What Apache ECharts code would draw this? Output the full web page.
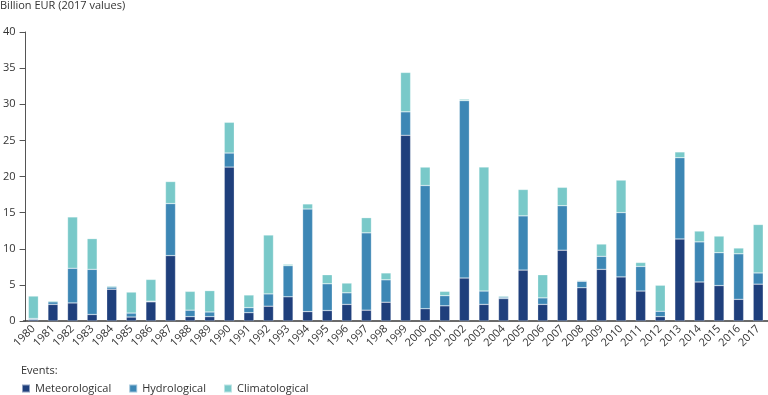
<!DOCTYPE html>
<html>
<head>
<meta charset="utf-8">
<script src="https://cdn.jsdelivr.net/npm/echarts@6/dist/echarts.min.js"></script>
<style>
  html, body { margin: 0; padding: 0; background: #fff; }
  #chart { width: 768px; height: 395px; }
</style>
</head>
<body>
<div id="chart"></div>
<script>
const years = ['1980','1981','1982','1983','1984','1985','1986','1987','1988','1989',
  '1990','1991','1992','1993','1994','1995','1996','1997','1998','1999',
  '2000','2001','2002','2003','2004','2005','2006','2007','2008','2009',
  '2010','2011','2012','2013','2014','2015','2016','2017'];

const meteorological = [0.2, 2.3, 2.5, 0.9, 4.4, 0.55, 2.65, 9.05, 0.6, 0.6,
  21.3, 1.15, 2.05, 3.35, 1.3, 1.45, 2.3, 1.5, 2.6, 25.7,
  1.7, 2.1, 5.95, 2.3, 3.1, 7.05, 2.3, 9.8, 4.6, 7.15,
  6.1, 4.15, 0.6, 11.35, 5.4, 4.9, 3.0, 5.1];

const hydrological = [0.15, 0.35, 4.8, 6.25, 0.3, 0.55, 0.1, 7.2, 0.9, 0.65,
  1.95, 0.7, 1.7, 4.3, 14.2, 3.7, 1.6, 10.7, 3.1, 3.25,
  17.05, 1.4, 24.55, 1.85, 0.2, 7.5, 0.9, 6.15, 0.9, 1.8,
  8.9, 3.4, 0.75, 11.25, 5.55, 4.55, 6.3, 1.55];

const climatological = [3.1, 0.15, 7.1, 4.25, 0.15, 2.9, 3.0, 3.05, 2.6, 2.95,
  4.25, 1.75, 8.15, 0.2, 0.7, 1.25, 1.35, 2.1, 0.95, 5.45,
  2.55, 0.6, 0.2, 17.15, 0.15, 3.65, 3.2, 2.55, 0.1, 1.7,
  4.5, 0.55, 3.6, 0.8, 1.5, 2.3, 0.8, 6.7];

const seriesNames = ['Meteorological', 'Hydrological', 'Climatological'];
const colors = ['#1f3f7c', '#3d87b5', '#79c9c9'];

const FONT = '"Open Sans", sans-serif';
const chart = echarts.init(document.getElementById('chart'), null, { renderer: 'canvas' });

function barSeries(name, data, color) {
  return {
    name: name,
    type: 'bar',
    stack: 'total',
    data: data,
    barWidth: 10,
    itemStyle: { color: color, borderColor: 'rgba(255,255,255,0.5)', borderWidth: 0.5 },
    emphasis: { disabled: true }
  };
}

chart.setOption({
  animation: false,
  color: colors,
  textStyle: { fontFamily: FONT },
  title: [
    {
      text: 'Billion EUR (2017 values)',
      left: 0, top: 0, padding: 0,
      textStyle: { fontFamily: FONT, fontSize: 11, fontWeight: 'normal', color: '#333' }
    },
    {
      text: 'Events:',
      left: 21, top: 365, padding: 0,
      textStyle: { fontFamily: FONT, fontSize: 11, fontWeight: 'normal', color: '#333' }
    }
  ],
  legend: {
    left: 21, top: 383, padding: 0,
    itemWidth: 8, itemHeight: 8, itemGap: 17,
    icon: 'rect',
    textStyle: { fontFamily: FONT, fontSize: 11, color: '#333', padding: [0, 0, 0, 0] },
    data: seriesNames
  },
  grid: { left: 21, right: 0, top: 32, bottom: 74, containLabel: false },
  xAxis: {
    type: 'category',
    data: years,
    axisLine: { lineStyle: { color: '#3a3a3a', width: 1.5 } },
    axisTick: { show: false },
    axisLabel: {
      rotate: 45, margin: 6, interval: 0,
      fontFamily: FONT, fontSize: 11, color: '#333'
    }
  },
  yAxis: {
    type: 'value',
    min: 0, max: 40, interval: 5,
    offset: -2,
    axisLine: { show: true, lineStyle: { color: '#555', width: 1 } },
    axisTick: { show: true, length: 6, lineStyle: { color: '#555' } },
    splitLine: { show: false },
    axisLabel: { margin: 10, fontFamily: FONT, fontSize: 11, color: '#333' }
  },
  series: [
    barSeries(seriesNames[0], meteorological, colors[0]),
    barSeries(seriesNames[1], hydrological, colors[1]),
    barSeries(seriesNames[2], climatological, colors[2])
  ]
});
</script>
</body>
</html>
